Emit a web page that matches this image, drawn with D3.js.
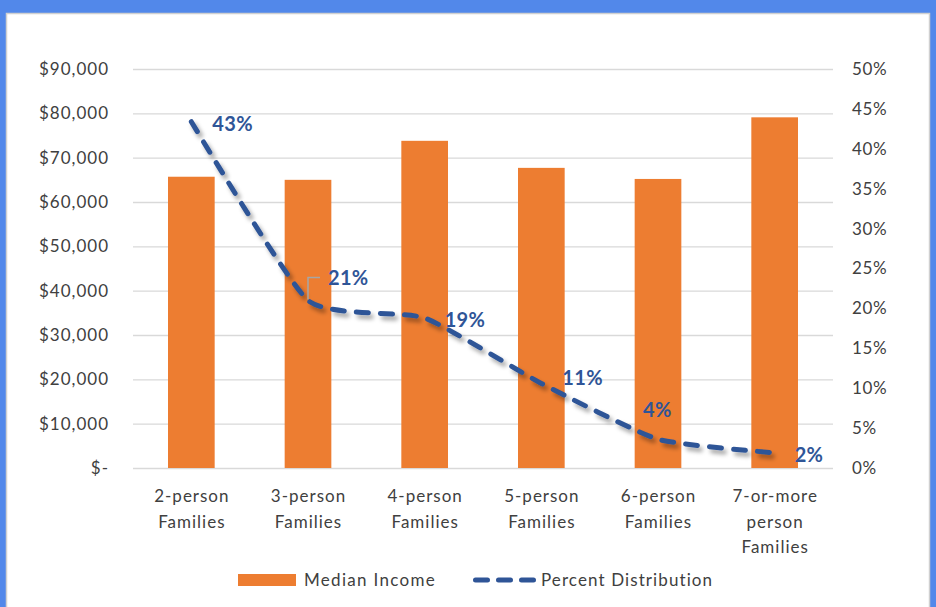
<!DOCTYPE html>
<html>
<head>
<meta charset="utf-8">
<script src="https://cdn.jsdelivr.net/npm/d3@7"></script>
<style>
  html, body { margin: 0; padding: 0; background: #5288EA; }
  svg { display: block; }
  text { font-family: Lato, "Noto Sans", sans-serif; }
</style>
</head>
<body>
<div id="chart"></div>
<script>
// data
const categories = ["2-person Families", "3-person Families", "4-person Families",
    "5-person Families", "6-person Families", "7-or-more person Families"];
const categoryLines = [["2-person", "Families"], ["3-person", "Families"], ["4-person", "Families"],
    ["5-person", "Families"], ["6-person", "Families"], ["7-or-more", "person", "Families"]];
const medianIncome = [65700, 65000, 73800, 67700, 65200, 79100];
const percentDistribution = [0.434, 0.21, 0.188, 0.106, 0.036, 0.019];
const incomeTicks = [0, 10000, 20000, 30000, 40000, 50000, 60000, 70000, 80000, 90000];
const percentTicks = [0, 0.05, 0.1, 0.15, 0.2, 0.25, 0.3, 0.35, 0.4, 0.45, 0.5];
const seriesNames = ["Median Income", "Percent Distribution"];

const W = 936, H = 607;
const margin = { top: 69, right: 103, bottom: 139, left: 133 };
const orange = "#ED7D31", blue = "#2F5597", grid = "#D9D9D9", ink = "#404040";

const svg = d3.select("#chart").append("svg")
    .attr("width", W)
    .attr("height", H);

// drop shadow for the line
const defs = svg.append("defs");
const shadow = defs.append("filter").attr("id", "shadow")
    .attr("x", "-20%").attr("y", "-20%").attr("width", "140%").attr("height", "140%");
shadow.append("feDropShadow")
    .attr("dx", 3).attr("dy", 4).attr("stdDeviation", 2.2)
    .attr("flood-color", "#000").attr("flood-opacity", 0.35);

// white panel on blue frame
svg.append("rect")
    .attr("x", 6.5).attr("y", 13.5)
    .attr("width", 923).attr("height", 600)
    .attr("fill", "#fff")
    .attr("stroke", "#D0D0D0")
    .attr("stroke-width", 1.5);

// scales
const xScale = d3.scaleBand()
    .domain(categories)
    .range([margin.left, W - margin.right])
    .paddingInner(0.6)
    .paddingOuter(0.3);

const yLeft = d3.scaleLinear()
    .domain([0, 90000])
    .range([H - margin.bottom, margin.top]);

const yRight = d3.scaleLinear()
    .domain([0, 0.5])
    .range([H - margin.bottom, margin.top]);

// gridlines
svg.append("g")
    .attr("class", "grid")
    .attr("transform", `translate(${margin.left},0)`)
    .call(d3.axisLeft(yLeft)
        .tickValues(incomeTicks)
        .tickSize(-(W - margin.left - margin.right))
        .tickFormat(""))
    .call(g => g.select(".domain").remove())
    .call(g => g.selectAll("line").attr("stroke", grid).attr("stroke-width", 1.3));

// left axis
const money = d => d === 0 ? "$-" : "$" + d3.format(",")(d);
svg.append("g")
    .attr("transform", `translate(${margin.left},0)`)
    .call(d3.axisLeft(yLeft).tickValues(incomeTicks).tickSize(0).tickPadding(24).tickFormat(money))
    .call(g => g.select(".domain").remove())
    .call(g => g.selectAll("text")
        .attr("fill", ink)
        .style("font-size", "17px")
        .style("letter-spacing", "1px")
        .style("font-family", "Lato, sans-serif"));

// right axis
svg.append("g")
    .attr("transform", `translate(${W - margin.right},0)`)
    .call(d3.axisRight(yRight).tickValues(percentTicks).tickSize(0).tickPadding(19).tickFormat(d3.format(".0%")))
    .call(g => g.select(".domain").remove())
    .call(g => g.selectAll("text")
        .attr("fill", ink)
        .style("font-size", "17px")
        .style("letter-spacing", "0.6px")
        .style("font-family", "Lato, sans-serif"));

// bars
svg.append("g")
    .selectAll("rect")
    .data(categories)
    .join("rect")
    .attr("x", d => xScale(d))
    .attr("y", (d, i) => yLeft(medianIncome[i]))
    .attr("width", xScale.bandwidth())
    .attr("height", (d, i) => yLeft(0) - yLeft(medianIncome[i]))
    .attr("fill", orange);

// category labels
const cx = d => xScale(d) + xScale.bandwidth() / 2;
const catLabels = svg.append("g")
    .selectAll("text")
    .data(categories)
    .join("text")
    .attr("x", cx)
    .attr("y", yLeft(0) + 34)
    .attr("text-anchor", "middle")
    .attr("fill", ink)
    .style("font-size", "17px")
    .style("letter-spacing", "1px");
catLabels.each(function (d, i) {
    d3.select(this).selectAll("tspan")
        .data(categoryLines[i])
        .join("tspan")
        .attr("x", cx(d) + 0.5)
        .attr("dy", (t, j) => j === 0 ? 0 : 25.5)
        .text(t => t);
});

// percent line
const pts = categories.map((c, i) => [cx(c), yRight(percentDistribution[i])]);
const line = d3.line().curve(d3.curveCardinal.tension(0.5));
svg.append("path")
    .attr("d", line(pts))
    .attr("fill", "none")
    .attr("stroke", blue)
    .attr("stroke-width", 5)
    .attr("stroke-dasharray", "12,12")
    .attr("stroke-linecap", "round")
    .attr("filter", "url(#shadow)");

// data labels: offsets from each point
const labelOffsets = [[21, 9], [20, -15], [20, 9], [21, 2], [-15, -22], [20, 9]];
svg.append("g")
    .selectAll("text")
    .data(percentDistribution)
    .join("text")
    .attr("x", (d, i) => pts[i][0] + labelOffsets[i][0])
    .attr("y", (d, i) => pts[i][1] + labelOffsets[i][1])
    .attr("fill", blue)
    .style("font-size", "20px")
    .style("font-weight", "bold")
    .style("letter-spacing", "0.3px")
    .text(d => d3.format(".0%")(d));

// leader line for the 21% label
const p1 = pts[1];
svg.append("path")
    .attr("d", `M${p1[0]},${p1[1] - 1}V${p1[1] - 23}H${p1[0] + 12}`)
    .attr("fill", "none")
    .attr("stroke", "#A6A6A6")
    .attr("stroke-width", 1.5);

// legend
const legend = svg.append("g").attr("transform", `translate(238,580)`);
legend.append("rect")
    .attr("x", 0).attr("y", -6)
    .attr("width", 58).attr("height", 12)
    .attr("fill", orange);
legend.append("text")
    .attr("x", 66).attr("y", 6)
    .attr("fill", ink)
    .style("font-size", "17px")
    .style("letter-spacing", "1.3px")
    .text(seriesNames[0]);
legend.append("line")
    .attr("x1", 237.5).attr("x2", 296)
    .attr("y1", 0).attr("y2", 0)
    .attr("stroke", blue)
    .attr("stroke-width", 5)
    .attr("stroke-dasharray", "12,11")
    .attr("stroke-linecap", "round");
legend.append("text")
    .attr("x", 303).attr("y", 6)
    .attr("fill", ink)
    .style("font-size", "17px")
    .style("letter-spacing", "1.1px")
    .text(seriesNames[1]);
</script>
</body>
</html>
